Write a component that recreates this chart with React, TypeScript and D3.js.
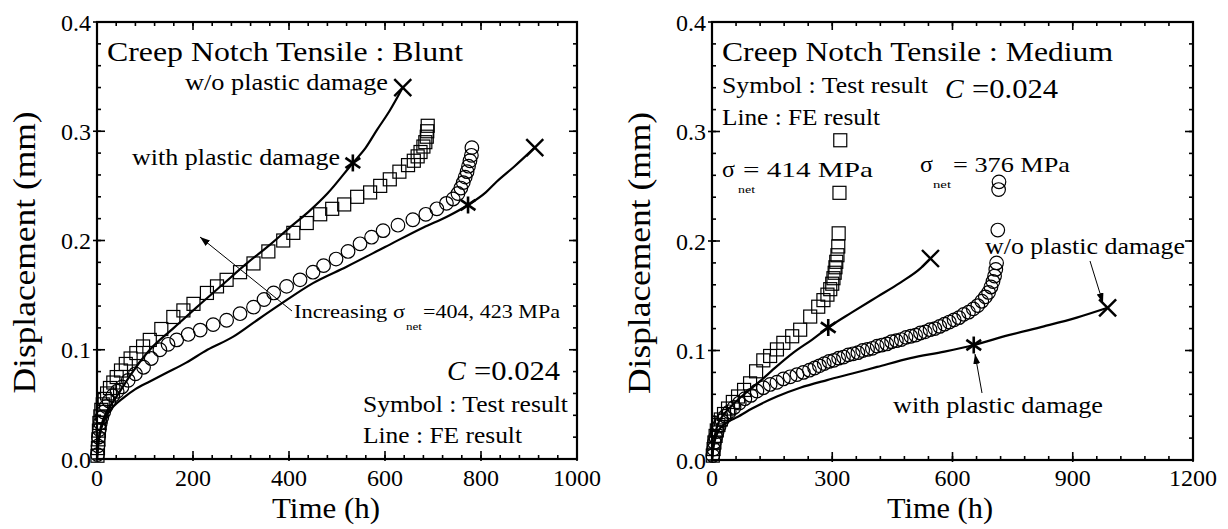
import React from 'react';
import * as d3 from 'd3';

type Pt = [number, number];

// ---------- Blunt notch (left panel) ----------
const bluntTimeTicks = [0, 200, 400, 600, 800, 1000];
const mediumTimeTicks = [0, 300, 600, 900, 1200];
const dispTicks = [0, 0.1, 0.2, 0.3, 0.4];

// Test result, sigma_net = 423 MPa (squares)
const blunt423Test: Pt[] = [
  [1, 0.003], [2, 0.01], [3, 0.018], [4, 0.026], [5, 0.033], [7, 0.039], [9, 0.045], [12, 0.05],
  [16, 0.055], [21, 0.06], [27, 0.065], [34, 0.07], [41, 0.075], [50, 0.081], [60, 0.087], [70, 0.092],
  [82, 0.097], [96, 0.103], [110, 0.109], [134, 0.119], [159, 0.13], [180, 0.136], [201, 0.142],
  [229, 0.152], [250, 0.158], [270, 0.164], [298, 0.171], [326, 0.179], [357, 0.19], [388, 0.2],
  [409, 0.207], [437, 0.216], [465, 0.224], [490, 0.229], [515, 0.233], [542, 0.24], [569, 0.244],
  [590, 0.25], [610, 0.256], [630, 0.263], [648, 0.269], [660, 0.273], [668, 0.277], [674, 0.281],
  [680, 0.286], [684, 0.29], [687, 0.295], [688, 0.3], [689, 0.305],
];

// Test result, sigma_net = 404 MPa (circles)
const blunt404Test: Pt[] = [
  [1, 0.004], [2, 0.012], [3, 0.02], [5, 0.027], [7, 0.033], [10, 0.038], [14, 0.043], [19, 0.048],
  [25, 0.053], [33, 0.058], [42, 0.062], [52, 0.066], [65, 0.072], [80, 0.078], [97, 0.084],
  [113, 0.092], [131, 0.1], [148, 0.105], [166, 0.109], [190, 0.114], [215, 0.118], [242, 0.123],
  [270, 0.127], [298, 0.133], [326, 0.139], [348, 0.146], [368, 0.152], [395, 0.158], [423, 0.164],
  [450, 0.171], [472, 0.177], [498, 0.183], [523, 0.19], [548, 0.197], [572, 0.203], [596, 0.209],
  [627, 0.214], [658, 0.219], [685, 0.224], [708, 0.229], [728, 0.234], [742, 0.238], [752, 0.243],
  [758, 0.248], [763, 0.253], [767, 0.258], [771, 0.263], [774, 0.268], [777, 0.273], [780, 0.278],
  [781, 0.285],
];

// FE result, 423 MPa
const blunt423FE: Pt[] = [
  [0, 0], [2, 0.012], [6, 0.025], [12, 0.035], [20, 0.043], [27, 0.048], [45, 0.06], [70, 0.077],
  [110, 0.1], [160, 0.12], [208, 0.139], [260, 0.159], [312, 0.179], [360, 0.196], [402, 0.212],
  [440, 0.226], [480, 0.243], [533, 0.271], [560, 0.285], [583, 0.301], [610, 0.319], [637, 0.34],
];

// FE result, 404 MPa
const blunt404FE: Pt[] = [
  [0, 0], [2, 0.011], [6, 0.023], [12, 0.032], [20, 0.04], [34, 0.048], [55, 0.056], [80, 0.064],
  [110, 0.071], [145, 0.079], [185, 0.088], [230, 0.1], [284, 0.112], [330, 0.126], [380, 0.141],
  [450, 0.161], [520, 0.176], [600, 0.194], [680, 0.212], [730, 0.222], [773, 0.2325], [810, 0.244],
  [833, 0.254], [870, 0.268], [912, 0.285],
];

// Predicted rupture points
const bluntWithDamage: Pt[] = [[533, 0.271], [773, 0.2325]];
const bluntWithoutDamage: Pt[] = [[637, 0.34], [912, 0.285]];

// ---------- Medium notch (right panel) ----------
// Test result, sigma_net = 414 MPa (squares)
const medium414Test: Pt[] = [
  [2, 0.004], [4, 0.01], [6, 0.016], [9, 0.022], [12, 0.027], [16, 0.032], [22, 0.037], [30, 0.042],
  [40, 0.047], [52, 0.053], [65, 0.058], [80, 0.064], [95, 0.07], [110, 0.081], [128, 0.091],
  [145, 0.095], [162, 0.101], [178, 0.107], [200, 0.113], [220, 0.119], [245, 0.131], [265, 0.14],
  [278, 0.146], [288, 0.151], [295, 0.156], [300, 0.161], [303, 0.166], [306, 0.171], [308, 0.176],
  [310, 0.181], [313, 0.187], [315, 0.195], [316, 0.207], [318, 0.244], [320, 0.292],
];

// Test result, sigma_net = 376 MPa (circles)
const medium376Test: Pt[] = [
  [2, 0.004], [4, 0.01], [6, 0.016], [9, 0.021], [13, 0.026], [18, 0.031], [25, 0.036], [33, 0.04],
  [43, 0.044], [55, 0.048], [68, 0.052], [82, 0.056], [97, 0.059], [112, 0.063], [128, 0.066],
  [145, 0.069], [162, 0.071], [178, 0.074], [195, 0.076], [212, 0.078], [228, 0.08], [243, 0.082],
  [256, 0.084], [268, 0.086], [280, 0.088], [292, 0.09], [304, 0.091], [316, 0.093], [328, 0.094],
  [340, 0.096], [352, 0.097], [364, 0.098], [376, 0.1], [388, 0.101], [400, 0.102], [412, 0.104],
  [424, 0.105], [436, 0.106], [448, 0.108], [460, 0.109], [472, 0.11], [484, 0.112], [496, 0.113],
  [508, 0.114], [520, 0.116], [532, 0.117], [544, 0.119], [556, 0.12], [568, 0.122], [580, 0.124],
  [592, 0.126], [604, 0.128], [616, 0.13], [628, 0.133], [640, 0.135], [652, 0.138], [663, 0.141],
  [673, 0.145], [682, 0.149], [690, 0.153], [696, 0.158], [701, 0.163], [705, 0.168], [708, 0.174],
  [710, 0.18], [713, 0.21], [715, 0.247], [716, 0.254],
];

// FE result, 414 MPa
const medium414FE: Pt[] = [
  [0, 0], [3, 0.012], [8, 0.024], [15, 0.033], [28, 0.041], [45, 0.048], [80, 0.06], [120, 0.072],
  [160, 0.085], [203, 0.098], [250, 0.11], [290, 0.121], [350, 0.135], [412, 0.149], [470, 0.162],
  [520, 0.175], [545, 0.184],
];

// FE result, 376 MPa
const medium376FE: Pt[] = [
  [0, 0], [3, 0.01], [8, 0.019], [15, 0.026], [28, 0.032], [45, 0.036], [62, 0.039], [100, 0.047],
  [162, 0.058], [220, 0.066], [287, 0.073], [350, 0.079], [412, 0.085], [495, 0.093], [580, 0.099],
  [653, 0.105], [740, 0.114], [828, 0.122], [910, 0.13], [987, 0.139],
];

const mediumWithDamage: Pt[] = [[290, 0.121], [653, 0.105]];
const mediumWithoutDamage: Pt[] = [[545, 0.184], [987, 0.139]];

const FONT = '"Liberation Serif", "Times New Roman", serif';

type Scale = d3.ScaleLinear<number, number>;

const txtStyle = { fontFamily: FONT };

function Axes({ x, y, xTicks, xMinorStep, yTicks, yMinorStep, yLabelX, xLabelX, xLabelLen }: {
  x: Scale; y: Scale; xTicks: number[]; xMinorStep: number; yTicks: number[]; yMinorStep: number;
  yLabelX: number; xLabelX: number; xLabelLen: number;
}) {
  const [x0, x1] = x.range();
  const [y0, y1] = y.range();
  const [dx0, dx1] = x.domain();
  const [dy0, dy1] = y.domain();
  const xMinor = d3.range(dx0, dx1 + 1e-9, xMinorStep);
  const yMinor = d3.range(dy0, dy1 + 1e-9, yMinorStep);
  const fmt = d3.format('.1f');
  return (
    <g stroke="#000" strokeWidth={1.6}>
      {xMinor.map((t) => (
        <g key={'xm' + t}>
          <line x1={x(t)} x2={x(t)} y1={y0} y2={y0 - 4} />
          <line x1={x(t)} x2={x(t)} y1={y1} y2={y1 + 4} />
        </g>
      ))}
      {yMinor.map((v) => (
        <g key={'ym' + v}>
          <line x1={x0} x2={x0 + 4} y1={y(v)} y2={y(v)} />
          <line x1={x1} x2={x1 - 4} y1={y(v)} y2={y(v)} />
        </g>
      ))}
      {xTicks.map((t) => (
        <g key={'xt' + t}>
          <line x1={x(t)} x2={x(t)} y1={y0 + 2} y2={y0 - 8} />
          <line x1={x(t)} x2={x(t)} y1={y1} y2={y1 + 8} />
          <text x={x(t)} y={486} textAnchor="middle" fontSize={24} stroke="none" fill="#000" style={txtStyle}>
            {t}
          </text>
        </g>
      ))}
      {yTicks.map((v) => (
        <g key={'yt' + v}>
          <line x1={x0 - 4} x2={x0 + 8} y1={y(v)} y2={y(v)} />
          <line x1={x1} x2={x1 - 8} y1={y(v)} y2={y(v)} />
          <text x={x0 - 6} y={y(v) + 8.5} textAnchor="end" fontSize={24} stroke="none" fill="#000" style={txtStyle}>
            {fmt(v)}
          </text>
        </g>
      ))}
      <rect x={x0} y={y1} width={x1 - x0} height={y0 - y1} fill="none" strokeWidth={2.2} />
      <text
        transform={`translate(${yLabelX},${(y0 + y1) / 2 + 12}) rotate(-90)`}
        textAnchor="middle" fontSize={31} stroke="none" fill="#000" style={txtStyle}
        textLength={282} lengthAdjust="spacingAndGlyphs"
      >
        Displacement (mm)
      </text>
      <text x={xLabelX} y={518} fontSize={30} stroke="none" fill="#000" style={txtStyle}
        textLength={xLabelLen} lengthAdjust="spacingAndGlyphs">
        Time (h)
      </text>
    </g>
  );
}

function Series({ x, y, squares, circles, curves, withDmg, withoutDmg }: {
  x: Scale; y: Scale; squares: Pt[]; circles: Pt[]; curves: Pt[][]; withDmg: Pt[]; withoutDmg: Pt[];
}) {
  const line = d3.line<Pt>().x((d) => x(d[0])).y((d) => y(d[1])).curve(d3.curveMonotoneX);
  const s = 13;
  const a = 8.5;
  const b = 8.5;
  return (
    <g>
      {curves.map((c, i) => (
        <path key={'c' + i} d={line(c) || ''} fill="none" stroke="#000" strokeWidth={2.2} />
      ))}
      {squares.map((d, i) => (
        <rect key={'s' + i} x={x(d[0]) - s / 2} y={y(d[1]) - s / 2} width={s} height={s}
          fill="none" stroke="#000" strokeWidth={1.2} />
      ))}
      {circles.map((d, i) => (
        <circle key={'o' + i} cx={x(d[0])} cy={y(d[1])} r={6.8} fill="none" stroke="#000" strokeWidth={1.2} />
      ))}
      {withDmg.map((d, i) => {
        const cx = x(d[0]);
        const cy = y(d[1]);
        return (
          <g key={'a' + i} stroke="#000" strokeWidth={2.6}>
            <line x1={cx} x2={cx} y1={cy - a} y2={cy + a} />
            <line x1={cx - a * 0.87} x2={cx + a * 0.87} y1={cy - a * 0.6} y2={cy + a * 0.6} />
            <line x1={cx - a * 0.87} x2={cx + a * 0.87} y1={cy + a * 0.6} y2={cy - a * 0.6} />
          </g>
        );
      })}
      {withoutDmg.map((d, i) => {
        const cx = x(d[0]);
        const cy = y(d[1]);
        return (
          <g key={'x' + i} stroke="#000" strokeWidth={2.4}>
            <line x1={cx - b} x2={cx + b} y1={cy - b} y2={cy + b} />
            <line x1={cx - b} x2={cx + b} y1={cy + b} y2={cy - b} />
          </g>
        );
      })}
    </g>
  );
}

function T({ x, y, size, len, children, italic }: {
  x: number; y: number; size: number; len?: number; children: React.ReactNode; italic?: boolean;
}) {
  return (
    <text x={x} y={y} fontSize={size} style={txtStyle} fill="#000" fontStyle={italic ? 'italic' : 'normal'}
      textLength={len} lengthAdjust={len ? 'spacingAndGlyphs' : undefined}>
      {children}
    </text>
  );
}

export default function App() {
  const xL = d3.scaleLinear().domain([0, 1000]).range([97, 577]);
  const yL = d3.scaleLinear().domain([0, 0.4]).range([459, 22]);
  const xR = d3.scaleLinear().domain([0, 1200]).range([712, 1193]);
  const yR = d3.scaleLinear().domain([0, 0.4]).range([460, 22]);

  return (
    <svg width={1228} height={529} viewBox="0 0 1228 529"
      style={{ position: 'absolute', left: 0, top: 0, background: '#fff' }}>
      <defs>
        <marker id="arrow" markerUnits="userSpaceOnUse" markerWidth={11} markerHeight={8}
          refX={10} refY={3.5} orient="auto">
          <path d="M0,0 L10,3.5 L0,7 z" fill="#000" />
        </marker>
      </defs>
      <rect x={0} y={0} width={1228} height={529} fill="#fff" />

      {/* Blunt notch */}
      <Axes x={xL} y={yL} xTicks={bluntTimeTicks} xMinorStep={40} yTicks={dispTicks} yMinorStep={0.02}
        yLabelX={35} xLabelX={272} xLabelLen={108} />
      <Series x={xL} y={yL} squares={blunt423Test} circles={blunt404Test}
        curves={[blunt423FE, blunt404FE]} withDmg={bluntWithDamage} withoutDmg={bluntWithoutDamage} />
      <T x={107} y={61} size={27} len={356}>Creep Notch Tensile : Blunt</T>
      <T x={185} y={90} size={23} len={203}>w/o plastic damage</T>
      <T x={132} y={165} size={23} len={208}>with plastic damage</T>
      <line x1={292} y1={311} x2={200} y2={237} stroke="#000" strokeWidth={1} markerEnd="url(#arrow)" />
      <T x={294} y={318} size={19} len={111}>Increasing σ</T>
      <T x={406} y={330} size={10} len={16}>net</T>
      <T x={423} y={318} size={19} len={137}>=404, 423 MPa</T>
      <T x={447} y={380} size={28} italic>C</T>
      <T x={474} y={380} size={28} len={86}>=0.024</T>
      <T x={363} y={412} size={23} len={205}>Symbol : Test result</T>
      <T x={363} y={443} size={23} len={159}>Line : FE result</T>

      {/* Medium notch */}
      <Axes x={xR} y={yR} xTicks={mediumTimeTicks} xMinorStep={60} yTicks={dispTicks} yMinorStep={0.02}
        yLabelX={650} xLabelX={887} xLabelLen={106} />
      <Series x={xR} y={yR} squares={medium414Test} circles={medium376Test}
        curves={[medium414FE, medium376FE]} withDmg={mediumWithDamage} withoutDmg={mediumWithoutDamage} />
      <T x={722} y={61} size={27} len={391}>Creep Notch Tensile : Medium</T>
      <T x={722} y={93} size={23} len={206}>Symbol : Test result</T>
      <T x={945} y={98} size={28} italic>C</T>
      <T x={972} y={98} size={28} len={86}>=0.024</T>
      <T x={722} y={125} size={23} len={158}>Line : FE result</T>
      <T x={722} y={177} size={24}>σ</T>
      <T x={738} y={193} size={10} len={17}>net</T>
      <T x={743} y={177} size={22} len={130}>= 414 MPa</T>
      <T x={920} y={172} size={24}>σ</T>
      <T x={933} y={188} size={10} len={18}>net</T>
      <T x={953} y={172} size={22} len={117}>= 376 MPa</T>
      <T x={985} y={254} size={23} len={200}>w/o plastic damage</T>
      <line x1={1090} y1={261} x2={1103} y2={303} stroke="#000" strokeWidth={1} markerEnd="url(#arrow)" />
      <T x={893} y={413} size={23} len={210}>with plastic damage</T>
      <line x1={982} y1={393} x2={975} y2={354} stroke="#000" strokeWidth={1} markerEnd="url(#arrow)" />
    </svg>
  );
}
